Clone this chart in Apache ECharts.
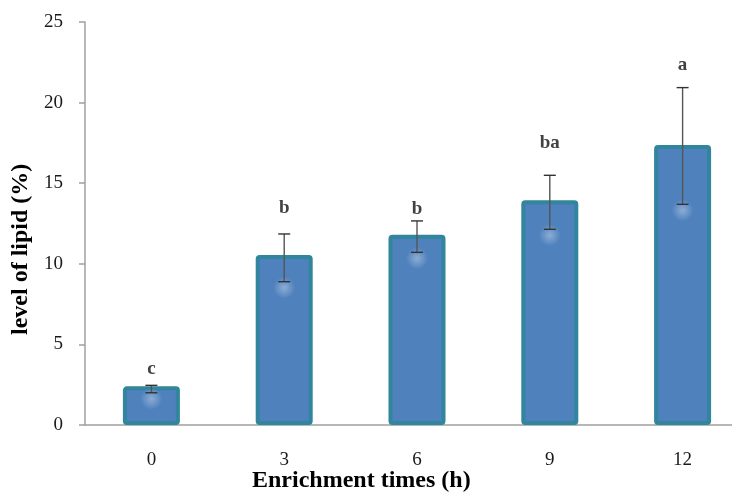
<!DOCTYPE html>
<html>
<head>
<meta charset="utf-8">
<script src="https://cdn.jsdelivr.net/npm/echarts@6/dist/echarts.min.js"></script>
<style>
  html, body { margin: 0; padding: 0; background: #fff; }
  #chart { width: 732px; height: 494px; }
</style>
</head>
<body>
<div id="chart"></div>
<script>
const categories = ["0", "3", "6", "9", "12"];
const lipid = [2.4, 10.55, 11.8, 13.95, 17.37];
const errLow = [2.0, 8.89, 10.71, 12.14, 13.69];
const errHigh = [2.46, 11.85, 12.66, 15.49, 20.93];
const letters = ["c", "b", "b", "ba", "a"];
const letterY = [3.47, 13.46, 13.4, 17.47, 22.33];
const yTicks = [0, 5, 10, 15, 20, 25];

const serif = "'Liberation Serif', 'Times New Roman', serif";
const chart = echarts.init(document.getElementById("chart"));

chart.setOption({
  animation: false,
  grid: { left: 85, top: 22, width: 664, height: 403, outerBoundsMode: "none" },
  xAxis: {
    type: "category",
    data: categories,
    axisLine: { lineStyle: { color: "#a0a0a0", width: 1.5 } },
    axisTick: { show: false },
    axisLabel: { color: "#1a1a1a", fontFamily: serif, fontSize: 19, margin: 26 },
  },
  yAxis: {
    type: "value",
    min: yTicks[0],
    max: yTicks[yTicks.length - 1],
    interval: 5,
    axisLine: { show: true, lineStyle: { color: "#a0a0a0", width: 1.5 } },
    axisTick: { show: true, length: 6, lineStyle: { color: "#a0a0a0", width: 1.5 } },
    axisLabel: { color: "#1a1a1a", fontFamily: serif, fontSize: 19, margin: 22 },
    splitLine: { show: false },
  },
  graphic: [
    {
      type: "text",
      left: 252,
      top: 469,
      style: {
        text: "Enrichment times (h)",
        font: "bold 24px " + serif,
        fill: "#000",
      },
    },
    {
      type: "text",
      x: 9,
      y: 335,
      rotation: Math.PI / 2,
      style: {
        text: "level of lipid (%)",
        font: "bold 24px " + serif,
        fill: "#000",
        verticalAlign: "top",
      },
    },
  ],
  series: [
    {
      type: "bar",
      data: lipid,
      barWidth: 57,
      itemStyle: {
        color: "#4f81bd",
        borderColor: "#31859c",
        borderWidth: 4,
        borderRadius: 2,
      },
      z: 2,
    },
    {
      // error bars, with the faint highlight under the lower cap
      type: "custom",
      data: categories.map((c, i) => [i, errLow[i], errHigh[i]]),
      renderItem(params, api) {
        const lo = api.coord([api.value(0), api.value(1)]);
        const hi = api.coord([api.value(0), api.value(2)]);
        const x = lo[0];
        const hw = 6;
        const st = { stroke: "#333", lineWidth: 1.4 };
        return {
          type: "group",
          children: [
            {
              type: "circle",
              shape: { cx: x, cy: lo[1] + 6, r: 11 },
              style: {
                fill: new echarts.graphic.RadialGradient(0.5, 0.5, 0.5, [
                  { offset: 0, color: "rgba(255,255,255,0.35)" },
                  { offset: 1, color: "rgba(255,255,255,0)" },
                ]),
              },
            },
            { type: "line", shape: { x1: x, y1: lo[1], x2: x, y2: hi[1] }, style: { stroke: "#555", lineWidth: 1.4 } },
            { type: "line", shape: { x1: x - hw, y1: lo[1], x2: x + hw, y2: lo[1] }, style: st },
            { type: "line", shape: { x1: x - hw, y1: hi[1], x2: x + hw, y2: hi[1] }, style: st },
          ],
        };
      },
      z: 3,
    },
    {
      type: "scatter",
      data: categories.map((c, i) => [i, letterY[i]]),
      symbolSize: 0,
      label: {
        show: true,
        position: "inside",
        formatter: (p) => letters[p.dataIndex],
        color: "#111",
        fontFamily: serif,
        fontWeight: "bold",
        fontSize: 19,
      },
      z: 4,
    },
  ],
});
</script>
</body>
</html>
